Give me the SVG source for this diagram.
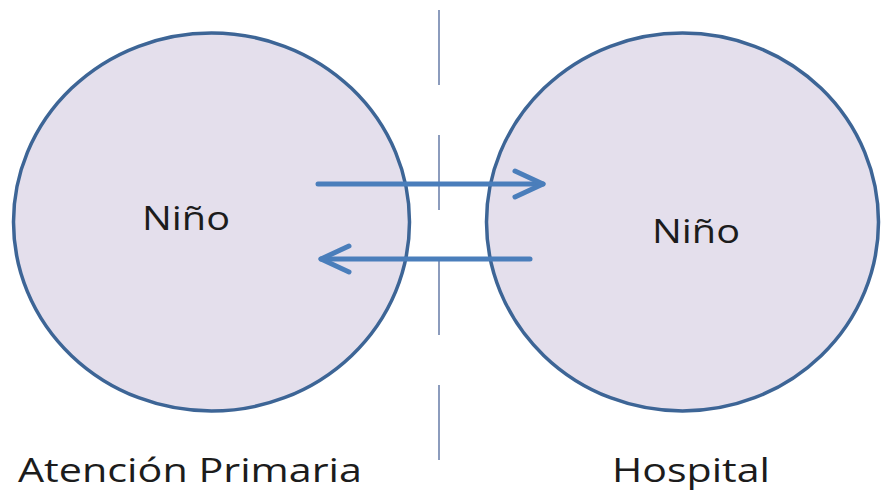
<svg xmlns="http://www.w3.org/2000/svg" width="881" height="493" viewBox="0 0 881 493">
<style>
.node{fill:#e4dfec;stroke:#3d6596;stroke-width:3.5}
.lbl{font-family:"Open Sans","Liberation Sans",sans-serif;font-size:33px;fill:#1c1c1c}
.arr{stroke:#4a7ebb;stroke-width:5;fill:none;stroke-linecap:round;stroke-linejoin:round}
.div{stroke:#8c9cbd;stroke-width:2;stroke-dasharray:75 50}
</style>
<rect width="881" height="493" fill="#ffffff"/>
<line class="div" x1="439" y1="10" x2="439" y2="462"/>
<g id="nodo-atencion">
<ellipse class="node" cx="211.5" cy="222" rx="198" ry="189"/>
<text class="lbl" x="142" y="230" textLength="88" lengthAdjust="spacingAndGlyphs">Niño</text>
</g>
<g id="nodo-hospital">
<ellipse class="node" cx="682.5" cy="222" rx="196" ry="189"/>
<text class="lbl" x="652" y="243" textLength="88" lengthAdjust="spacingAndGlyphs">Niño</text>
</g>
<g id="connectors">
<line class="arr" x1="318" y1="184" x2="543" y2="184"/>
<polyline class="arr" points="515,171 543,184 515,197"/>
<line class="arr" x1="530" y1="259" x2="321" y2="259"/>
<polyline class="arr" points="349,246 321,259 349,272"/>
</g>
<text class="lbl" x="18" y="482" textLength="344" lengthAdjust="spacingAndGlyphs">Atención Primaria</text>
<text class="lbl" x="612" y="482" textLength="158" lengthAdjust="spacingAndGlyphs">Hospital</text>
</svg>
